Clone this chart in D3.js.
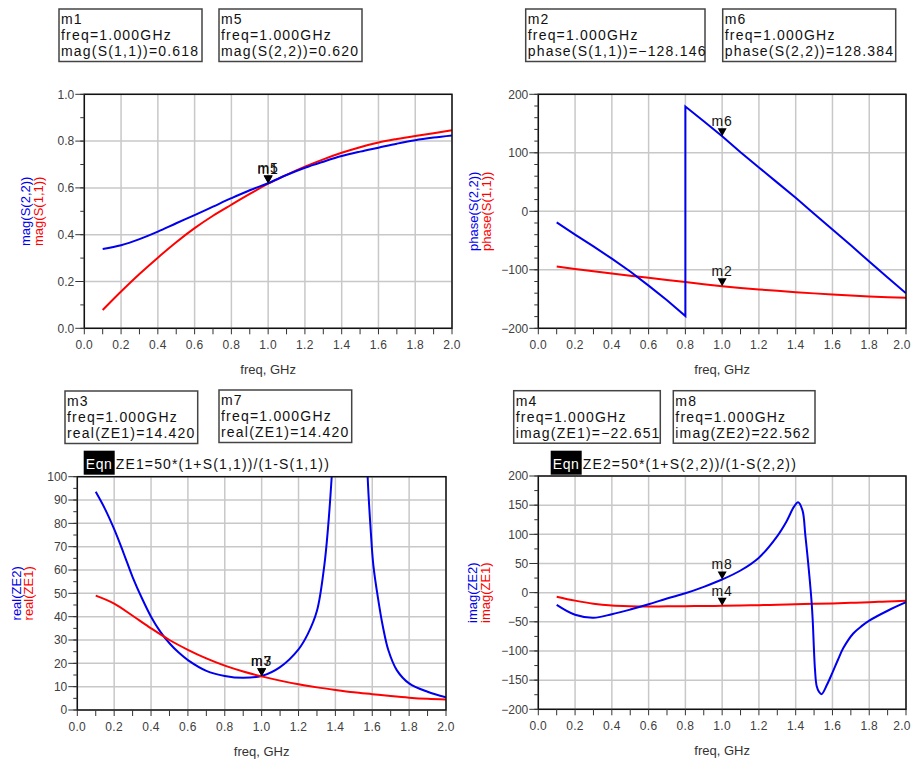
<!DOCTYPE html>
<html>
<head>
<meta charset="utf-8">
<script src="https://cdn.jsdelivr.net/npm/d3@7"></script>
<style>
body { margin: 0; background: #fff; }
text { font-family: "Liberation Sans", Arial, sans-serif; }
</style>
</head>
<body>
<script>
// ---- data ----
var freq = [0.1, 0.2, 0.3, 0.4, 0.5, 0.6, 0.7, 0.8, 0.9, 1.0, 1.1, 1.2, 1.3, 1.4, 1.5, 1.6, 1.7, 1.8, 1.9, 2.0];

var magS11 = [0.078, 0.157, 0.232, 0.302, 0.368, 0.428, 0.481, 0.528, 0.574, 0.618, 0.656, 0.691, 0.722, 0.750, 0.774, 0.794, 0.809, 0.822, 0.834, 0.846];
var magS22 = [0.339, 0.355, 0.381, 0.413, 0.449, 0.484, 0.520, 0.556, 0.590, 0.620, 0.655, 0.686, 0.712, 0.736, 0.755, 0.772, 0.789, 0.804, 0.815, 0.824];

var phaseS11 = [-94.5, -98.5, -102.5, -106.2, -110, -113.6, -117.4, -121, -124.6, -128.1, -131, -133.5, -136, -138.2, -140.3, -142.2, -144, -145.5, -146.8, -147.8];
var phaseS22Freq = [0.1, 0.2, 0.3, 0.4, 0.5, 0.6, 0.7, 0.8, 0.8, 0.9, 1.0, 1.1, 1.2, 1.3, 1.4, 1.5, 1.6, 1.7, 1.8, 1.9, 2.0];
var phaseS22 = [-19, -40, -60, -81, -103, -127, -152, -179, 179, 154, 128.4, 101, 75, 49, 23, -4, -31, -58, -86, -113, -140];

var realZE1 = [49, 45.6, 40.4, 35, 30, 25.8, 22.1, 19, 16.5, 14.42, 12.6, 11.0, 9.7, 8.6, 7.6, 6.8, 6.0, 5.3, 4.8, 4.5];
var realZE2Freq = [0.1, 0.15, 0.2, 0.25, 0.3, 0.35, 0.4, 0.45, 0.5, 0.55, 0.6, 0.7, 0.8, 0.9, 1.0, 1.1, 1.2, 1.25, 1.3, 1.34, 1.36, 1.38, 1.4, 1.45, 1.5, 1.55, 1.575, 1.59, 1.606, 1.633, 1.657, 1.687, 1.733, 1.8, 1.9, 2.0];
var realZE2 = [93.5, 86.2, 77.5, 67.5, 57, 48, 40, 33.6, 28.6, 24.6, 21.4, 16.8, 14.6, 13.8, 14.6, 18.4, 26, 32.5, 42.5, 62, 78, 100, 128, 230, 340, 165, 100, 79, 62, 47, 36, 25.7, 17.1, 11.4, 7.8, 5.4];

var imagZE1 = [-6.9, -13.7, -19, -22, -23.2, -23.6, -23.5, -23.2, -22.9, -22.65, -22.1, -21.5, -20.8, -20, -19.2, -18.5, -17.5, -16.3, -15.2, -14];
var imagZE2Freq = [0.1, 0.2, 0.3, 0.4, 0.5, 0.6, 0.7, 0.8, 0.9, 1.0, 1.1, 1.2, 1.3, 1.35, 1.39, 1.413, 1.437, 1.452, 1.465, 1.477, 1.487, 1.4925, 1.505, 1.514, 1.527, 1.541, 1.57, 1.6, 1.63, 1.659, 1.713, 1.76, 1.8, 1.9, 2.0];
var imagZE2 = [-21, -38, -43, -37, -29, -20, -10, -1, 10, 22.6, 38, 60, 97, 122, 147, 155, 141, 100, 60, 20, -18, -47, -132, -160, -170, -174, -158, -137, -115, -95, -70, -57, -48, -31, -16.5];

// tick labels
var xTicks = [0.0, 0.2, 0.4, 0.6, 0.8, 1.0, 1.2, 1.4, 1.6, 1.8, 2.0];
var magTicks = [0.0, 0.2, 0.4, 0.6, 0.8, 1.0];
var phaseTicks = [-200, -100, 0, 100, 200];
var realTicks = [0, 10, 20, 30, 40, 50, 60, 70, 80, 90, 100];
var imagTicks = [-200, -150, -100, -50, 0, 50, 100, 150, 200];

// markers (readouts at 1 GHz)
var markerNames = ["m1", "m5", "m2", "m6", "m3", "m7", "m4", "m8"];
var markerFreq = [1.0, 1.0, 1.0, 1.0, 1.0, 1.0, 1.0, 1.0];
var markerExpr = ["mag(S(1,1))", "mag(S(2,2))", "phase(S(1,1))", "phase(S(2,2))", "real(ZE1)", "real(ZE1)", "imag(ZE1)", "imag(ZE2)"];
var markerValues = [0.618, 0.620, -128.146, 128.384, 14.420, 14.420, -22.651, 22.562];

var BLUE = "#0000ee", RED = "#ff0000";

var svg = d3.select("body")
  .append("svg")
  .attr("width", 913)
  .attr("height", 760);

svg.append("rect").attr("width", 913).attr("height", 760).attr("fill", "#fff");

var panels = [
  { left: 84.3, right: 452, top: 94.3, bottom: 328.3,
    yDomain: [0, 1], yTicks: magTicks, yMinor: 0.1, yFmt: d3.format(".1f"),
    traces: [[freq, magS11, RED, "smooth"], [freq, magS22, BLUE, "smooth"]],
    yLabels: [["mag(S(2,2))", BLUE, -54], ["mag(S(1,1))", RED, -41]],
    markers: [0, 1], boxes: [[59, 9, 143], [219, 9, 143]], eqn: null },
  { left: 538.3, right: 906, top: 94.3, bottom: 328.3,
    yDomain: [-200, 200], yTicks: phaseTicks, yMinor: 20, yFmt: d3.format("d"),
    traces: [[freq, phaseS11, RED, "linear"], [phaseS22Freq, phaseS22, BLUE, "linear"]],
    yLabels: [["phase(S(2,2))", BLUE, -60], ["phase(S(1,1))", RED, -47]],
    markers: [2, 3], boxes: [[525.7, 9, 179.3], [722.7, 9, 173]], eqn: null },
  { left: 77.3, right: 446, top: 476.7, bottom: 710,
    yDomain: [0, 100], yTicks: realTicks, yMinor: 5, yFmt: d3.format("d"),
    traces: [[realZE2Freq, realZE2, BLUE, "smooth"], [freq, realZE1, RED, "smooth"]],
    yLabels: [["real(ZE2)", BLUE, -56], ["real(ZE1)", RED, -44]],
    markers: [4, 5], boxes: [[65, 391, 132.7], [219, 390, 132.7]],
    eqn: { x: 83.7, y: 450.7, text: "ZE1=50*(1+S(1,1))/(1-S(1,1))" } },
  { left: 538.3, right: 906, top: 476, bottom: 709.3,
    yDomain: [-200, 200], yTicks: imagTicks, yMinor: 25, yFmt: d3.format("d"),
    traces: [[freq, imagZE1, RED, "smooth"], [imagZE2Freq, imagZE2, BLUE, "smooth"]],
    yLabels: [["imag(ZE2)", BLUE, -61], ["imag(ZE1)", RED, -48]],
    markers: [6, 7], boxes: [[513.7, 390.7, 146.6], [673.3, 390.7, 141.7]],
    eqn: { x: 550.7, y: 450.7, text: "ZE2=50*(1+S(2,2))/(1-S(2,2))" } }
];

panels.forEach(function(p, pi) {
  var x = d3.scaleLinear().domain([0, 2]).range([p.left, p.right]);
  var y = d3.scaleLinear().domain(p.yDomain).range([p.bottom, p.top]);
  var g = svg.append("g");

  // clip so traces stay inside the frame
  svg.append("clipPath").attr("id", "clip" + pi)
    .append("rect")
    .attr("x", p.left).attr("y", p.top)
    .attr("width", p.right - p.left).attr("height", p.bottom - p.top);

  // grid
  g.selectAll(".vgrid").data(xTicks).enter().append("line")
    .attr("x1", function(d) { return x(d); }).attr("x2", function(d) { return x(d); })
    .attr("y1", p.top).attr("y2", p.bottom)
    .attr("stroke", "#c8c8c8").attr("stroke-width", 1.5);
  g.selectAll(".hgrid").data(p.yTicks).enter().append("line")
    .attr("x1", p.left).attr("x2", p.right)
    .attr("y1", function(d) { return y(d); }).attr("y2", function(d) { return y(d); })
    .attr("stroke", "#c8c8c8").attr("stroke-width", 1.5);

  // traces
  p.traces.forEach(function(t) {
    var pts = t[0].map(function(f, i) { return [f, t[1][i]]; });
    var line = d3.line()
      .x(function(d) { return x(d[0]); })
      .y(function(d) { return y(d[1]); })
      .curve(t[3] === "smooth" ? d3.curveCatmullRom.alpha(0.5) : d3.curveLinear);
    g.append("path")
      .datum(pts)
      .attr("d", line)
      .attr("clip-path", "url(#clip" + pi + ")")
      .attr("fill", "none")
      .attr("stroke", t[2])
      .attr("stroke-width", 2);
  });

  // frame
  g.append("rect")
    .attr("x", p.left).attr("y", p.top)
    .attr("width", p.right - p.left).attr("height", p.bottom - p.top)
    .attr("fill", "none").attr("stroke", "#111").attr("stroke-width", 1.5);

  // x ticks every 0.1
  var xMinor = d3.range(0, 2.0001, 0.1);
  g.selectAll(".xt").data(xMinor).enter().append("line")
    .attr("x1", function(d) { return x(d); }).attr("x2", function(d) { return x(d); })
    .attr("y1", p.bottom).attr("y2", p.bottom + 6)
    .attr("stroke", "#333").attr("stroke-width", 1);
  g.selectAll(".xl").data(xTicks).enter().append("text")
    .attr("x", function(d) { return Math.min(x(d), 902); })
    .attr("y", p.bottom + 21)
    .attr("text-anchor", "middle")
    .attr("font-size", 12).attr("letter-spacing", 0.3)
    .attr("fill", "#404040")
    .text(d3.format(".1f"));

  // y ticks
  var yMinor = d3.range(p.yDomain[0], p.yDomain[1] + p.yMinor / 2, p.yMinor);
  g.selectAll(".ym").data(yMinor).enter().append("line")
    .attr("x1", p.left - 4).attr("x2", p.left)
    .attr("y1", function(d) { return y(d); }).attr("y2", function(d) { return y(d); })
    .attr("stroke", "#333").attr("stroke-width", 1);
  g.selectAll(".yt").data(p.yTicks).enter().append("line")
    .attr("x1", p.left - 9).attr("x2", p.left)
    .attr("y1", function(d) { return y(d); }).attr("y2", function(d) { return y(d); })
    .attr("stroke", "#333").attr("stroke-width", 1);
  g.selectAll(".yl").data(p.yTicks).enter().append("text")
    .attr("x", p.left - 10)
    .attr("y", function(d) { return y(d); })
    .attr("dy", "0.36em")
    .attr("text-anchor", "end")
    .attr("font-size", 12)
    .attr("fill", "#404040")
    .text(p.yFmt);

  // axis titles
  g.append("text")
    .attr("x", (p.left + p.right) / 2)
    .attr("y", p.bottom + 46)
    .attr("text-anchor", "middle")
    .attr("font-size", 13)
    .attr("fill", "#333")
    .text("freq, GHz");
  p.yLabels.forEach(function(l) {
    g.append("text")
      .attr("transform", "translate(" + (p.left + l[2]) + "," + ((p.top + p.bottom) / 2) + ") rotate(-90)")
      .attr("text-anchor", "middle")
      .attr("font-size", 13)
      .attr("fill", l[1])
      .text(l[0]);
  });

  // equation block
  if (p.eqn) {
    g.append("rect")
      .attr("x", p.eqn.x).attr("y", p.eqn.y)
      .attr("width", 31).attr("height", 24)
      .attr("fill", "#000");
    g.append("text")
      .attr("x", p.eqn.x + 2).attr("y", p.eqn.y + 18)
      .attr("font-size", 14).attr("letter-spacing", 0.6)
      .attr("fill", "#fff")
      .text("Eqn");
    g.append("text")
      .attr("x", p.eqn.x + 32).attr("y", p.eqn.y + 18)
      .attr("font-size", 14).attr("letter-spacing", 1.15)
      .attr("fill", "#111")
      .text(p.eqn.text);
  }

  // markers and readout boxes
  p.markers.forEach(function(mi, k) {
    var mx = x(markerFreq[mi]), my = y(markerValues[mi]);
    g.append("path")
      .attr("d", "M" + (mx - 4.5) + "," + (my - 8) + "L" + (mx + 4.5) + "," + (my - 8) + "L" + mx + "," + my + "Z")
      .attr("fill", "#000");
    g.append("text")
      .attr("x", mx).attr("y", my - 10)
      .attr("text-anchor", "middle")
      .attr("font-size", 14).attr("letter-spacing", 0.8)
      .attr("fill", "#111")
      .text(markerNames[mi]);

    var b = p.boxes[k];
    g.append("rect")
      .attr("x", b[0]).attr("y", b[1])
      .attr("width", b[2]).attr("height", 52.5)
      .attr("fill", "#fff").attr("stroke", "#444").attr("stroke-width", 1.5);
    var lines = [markerNames[mi],
      "freq=" + d3.format(".3f")(markerFreq[mi]) + "GHz",
      markerExpr[mi] + "=" + d3.format(".3f")(markerValues[mi])];
    lines.forEach(function(s, li) {
      g.append("text")
        .attr("x", b[0] + 2).attr("y", b[1] + 15 + li * 16)
        .attr("font-size", 14).attr("letter-spacing", 1.2)
        .attr("fill", "#111")
        .text(s);
    });
  });
});
</script>
</body>
</html>
